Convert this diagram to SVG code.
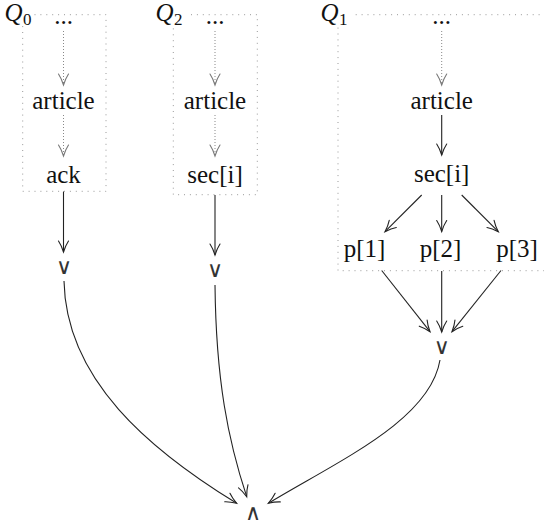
<svg xmlns="http://www.w3.org/2000/svg" width="544" height="525" viewBox="0 0 544 525">
  <defs>
    <marker id="tip" markerUnits="userSpaceOnUse" markerWidth="16" markerHeight="14" refX="0" refY="0" viewBox="-13 -7 16 14" orient="auto" overflow="visible">
      <path d="M-11,-5 C-8,-3 -2.5,-0.8 0,0 C-2.5,0.8 -8,3 -11,5" fill="none" stroke="#222" stroke-width="1.1" stroke-linecap="round"/>
    </marker>
    <marker id="tipGrey" markerUnits="userSpaceOnUse" markerWidth="16" markerHeight="14" refX="0" refY="0" viewBox="-13 -7 16 14" orient="auto" overflow="visible">
      <path d="M-11,-5 C-8,-3 -2.5,-0.8 0,0 C-2.5,0.8 -8,3 -11,5" fill="none" stroke="#777" stroke-width="1.1" stroke-linecap="round"/>
    </marker>
  </defs>
  <rect width="544" height="525" fill="#fff"/>

  <!-- query regions: dotted frames with their labels -->
  <g id="regions" fill="none" stroke="#999" stroke-width="1" stroke-dasharray="1 4.9">
    <rect x="22.7" y="14.7" width="83.3" height="176.6"/>
    <rect x="173.3" y="14.7" width="84" height="180"/>
    <rect x="338" y="14.7" width="220" height="256"/>
  </g>
  <g id="region-labels" font-family="Liberation Serif" fill="#111">
    <g id="label-q0">
      <rect x="0" y="0" width="30" height="25" fill="#fff"/>
      <text x="4.5" y="21" font-family="Liberation Serif" font-style="italic" font-size="25">Q</text>
      <text x="23" y="25" font-family="Liberation Serif" font-size="17">0</text>
    </g>
    <g id="label-q2">
      <rect x="150" y="0" width="40" height="28" fill="#fff"/>
      <text x="155.5" y="21" font-family="Liberation Serif" font-style="italic" font-size="25">Q</text>
      <text x="174" y="25" font-family="Liberation Serif" font-size="17">2</text>
    </g>
    <g id="label-q1">
      <rect x="315" y="0" width="37" height="25" fill="#fff"/>
      <text x="320.5" y="21" font-family="Liberation Serif" font-style="italic" font-size="25">Q</text>
      <text x="339" y="25" font-family="Liberation Serif" font-size="17">1</text>
    </g>
  </g>

  <!-- nodes -->
  <g font-family="Liberation Serif" font-size="25" fill="#111" text-anchor="middle">
    <g id="q0-top"><text x="63.5" y="24" font-family="Liberation Serif">...</text></g>
    <g id="q0-article"><text x="63.5" y="109" font-family="Liberation Serif">article</text></g>
    <g id="q0-ack"><text x="63.5" y="183" font-family="Liberation Serif">ack</text></g>

    <g id="q2-top"><text x="215" y="24" font-family="Liberation Serif">...</text></g>
    <g id="q2-article"><text x="215" y="109" font-family="Liberation Serif">article</text></g>
    <g id="q2-sec"><text x="215" y="183" font-family="Liberation Serif">sec[i]</text></g>

    <g id="q1-top"><text x="441.7" y="24" font-family="Liberation Serif">...</text></g>
    <g id="q1-article"><text x="441.7" y="109" font-family="Liberation Serif">article</text></g>
    <g id="q1-sec"><text x="441.7" y="182" font-family="Liberation Serif">sec[i]</text></g>
    <g id="q1-p1"><text x="364.5" y="257" font-family="Liberation Serif">p[1]</text></g>
    <g id="q1-p2"><text x="440.5" y="257" font-family="Liberation Serif">p[2]</text></g>
    <g id="q1-p3"><text x="517" y="257" font-family="Liberation Serif">p[3]</text></g>
  </g>
  <g font-family="DejaVu Sans" font-size="22" fill="#333" text-anchor="middle">
    <g id="q0-or"><text x="64" y="274" font-family="DejaVu Sans">∨</text></g>
    <g id="q2-or"><text x="215" y="277" font-family="DejaVu Sans">∨</text></g>
    <g id="q1-or"><text x="441.7" y="354" font-family="DejaVu Sans">∨</text></g>
    <g id="and"><text x="253" y="520" font-family="DejaVu Sans">∧</text></g>
  </g>

  <!-- connectors -->
  <g id="edges" fill="none">
    <g stroke="#888" stroke-width="1" stroke-dasharray="1 2" marker-end="url(#tipGrey)">
      <line x1="63.5" y1="31" x2="63.5" y2="85"/>
      <line x1="63.5" y1="115" x2="63.5" y2="156"/>
      <line x1="215" y1="31" x2="215" y2="85"/>
      <line x1="215" y1="115" x2="215" y2="156"/>
      <line x1="441.7" y1="31" x2="441.7" y2="85"/>
    </g>
    <g stroke="#222" stroke-width="1.1" marker-end="url(#tip)">
      <line x1="63.5" y1="191.5" x2="63.5" y2="252"/>
      <line x1="215" y1="195" x2="215" y2="255"/>

      <line x1="441.7" y1="115" x2="441.7" y2="155"/>
      <line x1="421.7" y1="195" x2="385" y2="231.7"/>
      <line x1="441.7" y1="195" x2="441.7" y2="231.5"/>
      <line x1="461.7" y1="195" x2="498.3" y2="231.7"/>

      <line x1="381.7" y1="270.5" x2="430" y2="331.7"/>
      <line x1="441.7" y1="271" x2="441.7" y2="332"/>
      <line x1="501" y1="270.5" x2="452" y2="331.7"/>

      <path d="M64,281 C66,380 150,450 236.7,503.3"/>
      <path d="M215,285 C216,380 228,440 246.7,496.7"/>
      <path d="M440,360 C430,420 340,460 268.3,503.3"/>
    </g>
  </g>
</svg>
